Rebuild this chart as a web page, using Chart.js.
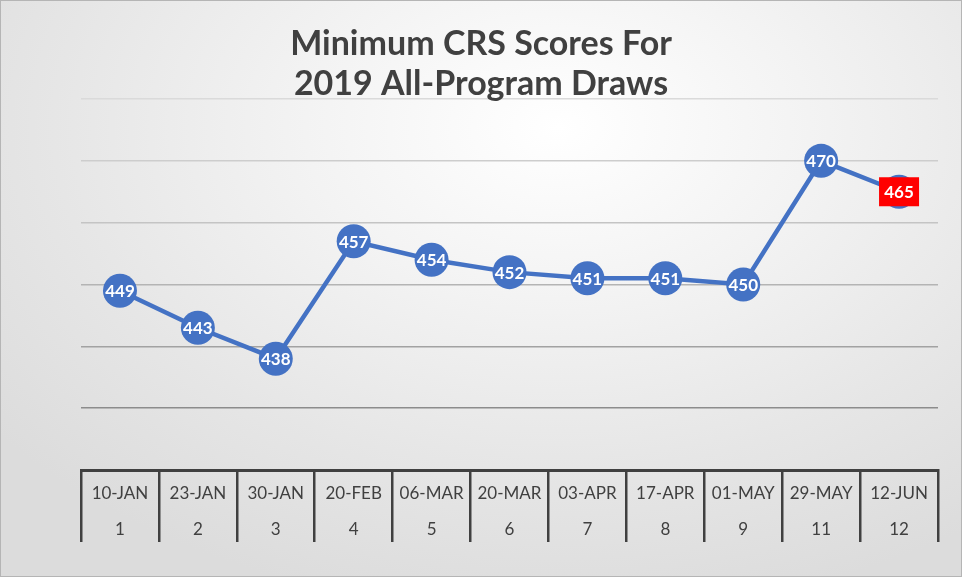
<!DOCTYPE html>
<html>
<head>
<meta charset="utf-8">
<script src="https://cdn.jsdelivr.net/npm/chart.js@4"></script>
<style>
  html, body { margin: 0; padding: 0; }
  #wrap {
    position: relative;
    width: 962px; height: 577px;
    box-sizing: border-box;
    border: 1px solid #b5b5b5;
    background: radial-gradient(ellipse 75% 85% at 58% 22%, #ffffff 0%, #f3f3f3 35%, #e6e6e6 70%, #dcdcdc 100%);
  }
  canvas { display: block; }
</style>
</head>
<body>
<div id="wrap"><canvas id="crsChart" width="960" height="575"></canvas></div>
<script>
// dữ liệu
const drawDates = ['10-JAN', '23-JAN', '30-JAN', '20-FEB', '06-MAR', '20-MAR', '03-APR', '17-APR', '01-MAY', '29-MAY', '12-JUN'];
const drawNumbers = ['1', '2', '3', '4', '5', '6', '7', '8', '9', '11', '12'];
const minScores = [449, 443, 438, 457, 454, 452, 451, 451, 450, 470, 465];
const titleLines = ['Minimum CRS Scores For', '2019 All-Program Draws'];

const blue = '#4472C4';
const textGray = '#404040';

// màu đường lưới nhạt dần lên trên
const gridColors = { 480: '#dadada', 470: '#cdcdcd', 460: '#c4c4c4', 450: '#b4b4b4', 440: '#a2a2a2', 430: '#8c8c8c' };

// vẽ số trong vòng tròn
const pointLabels = {
    id: 'pointLabels',
    afterDatasetsDraw(chart) {
        const ctx = chart.ctx;
        const meta = chart.getDatasetMeta(0);
        ctx.save();
        ctx.font = 'bold 17px Lato';
        ctx.textAlign = 'center';
        ctx.textBaseline = 'middle';
        meta.data.forEach((pt, i) => {
            const txt = String(minScores[i]);
            if (i === minScores.length - 1) { // điểm cuối có nền đỏ
                ctx.fillStyle = '#ff0000';
                ctx.fillRect(pt.x - 20, pt.y - 14.5, 40, 29);
            }
            ctx.fillStyle = '#ffffff';
            ctx.fillText(txt, pt.x, pt.y + 1);
        });
        ctx.restore();
    }
};

const ctx = document.getElementById('crsChart').getContext('2d');
new Chart(ctx, {
    type: 'line',
    data: {
        labels: drawDates.map((d, i) => [d, drawNumbers[i]]),
        datasets: [{
            data: minScores,
            borderColor: blue,
            borderWidth: 4.5,
            backgroundColor: blue,
            pointBackgroundColor: blue,
            pointBorderWidth: 0,
            pointRadius: 17,
            pointHoverRadius: 17,
            tension: 0,
            clip: false
        }]
    },
    options: {
        responsive: false,
        animation: false,
        layout: { padding: { left: 23, right: 23, top: 0, bottom: 34 } },
        plugins: {
            legend: { display: false },
            tooltip: { enabled: false },
            title: {
                display: true,
                text: titleLines,
                color: textGray,
                font: { family: 'Lato', size: 34, weight: 'bold', lineHeight: '40px' },
                padding: { top: 23, bottom: -5 }
            }
        },
        scales: {
            x: {
                offset: true,
                grid: {
                    offset: true,
                    drawOnChartArea: false,
                    drawTicks: true,
                    tickLength: 72,
                    color: textGray,
                    lineWidth: 2.5
                },
                border: { display: true, color: textGray, width: 3 },
                ticks: {
                    color: textGray,
                    font: { family: 'Lato', size: 17, lineHeight: '36px' },
                    padding: -66,
                    maxRotation: 0,
                    autoSkip: false
                },
                afterFit: (scale) => { scale.height = 72; }
            },
            y: {
                min: 420,
                max: 480,
                ticks: { display: false, stepSize: 10 },
                border: { display: false },
                grid: {
                    drawTicks: false,
                    lineWidth: 1.5,
                    color: (c) => gridColors[c.tick.value] || 'rgba(0,0,0,0)'
                },
                afterFit: (scale) => { scale.width = 57; }
            }
        }
    },
    plugins: [pointLabels]
});
</script>
</body>
</html>
